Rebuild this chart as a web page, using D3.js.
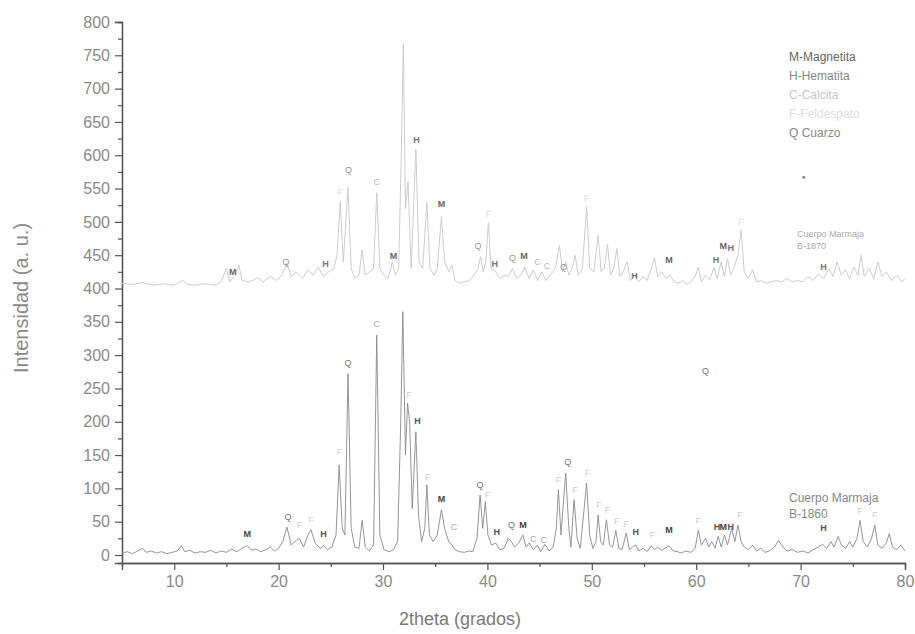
<!DOCTYPE html>
<html>
<head>
<meta charset="utf-8">
<script src="https://cdn.jsdelivr.net/npm/d3@7"></script>
<style>
  body { margin: 0; background: #fff; }
  text { font-family: "Liberation Sans", Arial, sans-serif; }
</style>
</head>
<body>
<div id="chart"></div>
<script>
// patron B-1860 (abajo) : [2theta, intensidad]
const pattern1860 = [
  [5.0,3],[5.5,5],[6.0,2],[6.5,6],[7.0,10],[7.3,4],[7.8,6],[8.3,3],[8.8,5],[9.3,2],[9.8,4],[10.3,6],[10.7,14],[11.0,5],
  [11.5,7],[12.0,3],[12.5,5],[13.0,4],[13.5,7],[14.0,3],[14.5,6],[15.0,4],[15.5,9],[16.0,5],[16.5,10],[17.0,14],[17.4,7],
  [17.8,9],[18.3,5],[18.8,8],[19.2,12],[19.6,6],[20.0,10],[20.4,20],[20.8,42],[21.2,15],[21.7,22],[22.0,25],[22.4,12],
  [22.8,30],[23.1,38],[23.5,18],[24.0,10],[24.3,14],[24.7,8],[25.1,12],[25.5,30],[25.8,135],[26.1,40],[26.35,30],
  [26.65,272],[26.95,40],[27.3,12],[27.7,10],[28.0,52],[28.3,12],[28.7,6],[29.1,15],[29.4,330],[29.7,30],[30.1,8],
  [30.6,5],[31.0,8],[31.4,20],[31.7,200],[31.9,365],[32.15,150],[32.35,228],[32.55,200],[32.8,70],[33.15,185],[33.4,60],
  [33.7,20],[34.0,40],[34.2,105],[34.45,30],[34.8,20],[35.2,30],[35.6,68],[35.9,40],[36.3,20],[36.6,15],[36.9,8],
  [37.3,5],[37.8,4],[38.2,6],[38.6,5],[39.0,25],[39.3,90],[39.55,40],[39.8,80],[40.05,30],[40.4,15],[40.8,18],[41.2,8],
  [41.6,10],[42.0,25],[42.3,20],[42.6,12],[43.0,18],[43.4,30],[43.7,12],[44.0,18],[44.4,8],[44.8,15],[45.1,5],[45.5,16],
  [45.9,6],[46.3,12],[46.6,40],[46.8,98],[47.05,30],[47.5,123],[47.8,40],[48.0,12],[48.3,83],[48.6,25],[48.9,10],
  [49.5,108],[49.8,30],[50.1,10],[50.4,20],[50.6,60],[50.85,20],[51.1,15],[51.4,53],[51.7,15],[52.0,12],[52.3,37],
  [52.6,10],[52.9,8],[53.3,33],[53.6,8],[53.9,12],[54.2,15],[54.5,6],[54.9,10],[55.3,5],[55.7,14],[56.0,8],[56.3,12],
  [56.7,7],[57.0,10],[57.4,14],[57.8,6],[58.2,5],[58.6,3],[59.0,6],[59.5,4],[59.9,10],[60.2,37],[60.5,15],[60.9,25],
  [61.2,12],[61.5,20],[61.8,10],[62.1,28],[62.4,12],[62.7,30],[63.0,15],[63.4,40],[63.7,20],[64.0,45],[64.3,20],
  [64.6,12],[65.0,8],[65.4,15],[65.8,6],[66.2,10],[66.6,4],[67.0,6],[67.5,12],[67.9,22],[68.3,12],[68.7,6],[69.2,8],
  [69.7,4],[70.2,6],[70.7,3],[71.2,8],[71.7,12],[72.1,16],[72.5,10],[72.9,20],[73.2,12],[73.6,28],[73.9,15],[74.3,10],
  [74.7,20],[75.0,12],[75.4,25],[75.7,52],[76.0,20],[76.4,12],[76.8,25],[77.1,45],[77.4,15],[77.8,10],[78.2,18],
  [78.5,32],[78.8,12],[79.2,8],[79.6,15],[80.0,6]
]

// patron B-1870 (arriba, desplazado)
const pattern1870 = [
  [5.0,408],[6.0,406],[7.0,409],[8.0,405],[9.0,407],[10.0,405],[10.8,412],[11.3,406],[12.0,405],[13.0,407],[14.0,405],
  [14.5,410],[15.0,430],[15.3,410],[15.8,418],[16.2,435],[16.5,412],[17.2,410],[18.0,416],[18.5,410],[19.2,418],
  [19.8,412],[20.3,420],[20.8,438],[21.2,418],[21.7,425],[22.3,415],[22.8,428],[23.3,420],[23.8,432],[24.3,418],
  [24.8,425],[25.3,430],[25.6,450],[25.9,530],[26.2,440],[26.65,552],[26.95,430],[27.3,415],[27.7,420],[28.0,458],
  [28.3,420],[28.7,425],[29.1,430],[29.4,544],[29.7,430],[30.1,420],[30.5,415],[30.9,440],[31.2,420],[31.5,430],
  [31.75,600],[31.95,767],[32.15,520],[32.4,560],[32.7,430],[33.15,609],[33.45,440],[33.8,430],[34.2,529],[34.5,430],
  [34.9,420],[35.2,430],[35.6,508],[35.9,440],[36.3,425],[36.6,435],[36.9,412],[37.3,408],[37.8,410],[38.3,412],
  [38.7,420],[39.1,430],[39.35,448],[39.6,425],[39.85,440],[40.1,499],[40.35,430],[40.8,425],[41.2,415],[41.6,420],
  [42.0,418],[42.4,430],[42.8,415],[43.2,420],[43.6,432],[44.0,415],[44.4,428],[44.8,412],[45.2,425],[45.6,412],
  [46.0,420],[46.5,430],[46.9,465],[47.2,425],[47.5,440],[47.8,420],[48.1,430],[48.4,450],[48.7,420],[49.1,430],
  [49.5,523],[49.8,430],[50.2,425],[50.6,480],[50.9,425],[51.2,430],[51.5,466],[51.8,420],[52.1,430],[52.4,460],
  [52.7,418],[53.0,425],[53.4,440],[53.7,412],[54.1,420],[54.5,410],[54.9,418],[55.3,412],[55.7,430],[56.0,446],
  [56.3,418],[56.7,425],[57.1,415],[57.5,420],[57.9,410],[58.3,408],[58.7,412],[59.1,406],[59.5,410],[59.9,418],
  [60.2,432],[60.5,410],[60.9,420],[61.3,413],[61.7,432],[62.0,415],[62.4,440],[62.7,418],[63.0,445],[63.3,420],
  [63.6,430],[64.0,450],[64.3,488],[64.6,425],[65.0,415],[65.4,428],[65.8,410],[66.2,412],[66.7,408],[67.2,410],
  [67.7,412],[68.2,410],[68.7,415],[69.2,410],[69.7,412],[70.2,410],[70.7,418],[71.2,412],[71.7,422],[72.2,415],
  [72.7,430],[73.1,418],[73.5,440],[73.9,420],[74.3,428],[74.7,415],[75.1,432],[75.5,420],[75.8,450],[76.1,418],
  [76.6,430],[77.0,415],[77.4,440],[77.8,418],[78.2,425],[78.7,412],[79.2,420],[79.7,410],[80.0,415]
]

// identificacion de fases: [2theta, intensidad, fase]
const labels1860 = [
  [17.0,27,"M"],[20.9,52,"Q"],[22.0,40,"F"],[23.1,48,"F"],[24.3,27,"H"],[25.8,150,"F"],[26.65,283,"Q"],[29.4,342,"C"],
  [32.5,235,"F"],[33.3,197,"H"],[34.3,112,"F"],[35.6,80,"M"],[36.8,38,"C"],[39.3,101,"Q"],[40.0,85,"F"],[40.9,30,"H"],
  [42.3,40,"Q"],[43.4,40,"M"],[44.4,20,"C"],[45.4,18,"C"],[46.8,108,"F"],[47.7,135,"Q"],[48.4,93,"F"],[49.6,118,"F"],
  [50.7,70,"F"],[51.5,63,"F"],[52.4,47,"F"],[53.3,42,"F"],[54.2,30,"H"],[55.8,25,"F"],[57.4,33,"M"],[60.2,47,"F"],
  [62.0,38,"H"],[62.6,38,"M"],[63.3,38,"H"],[64.2,55,"F"],[72.2,36,"H"],[75.7,62,"F"],[77.1,55,"F"],[60.9,271,"Q"]
]
const labels1870 = [
  [15.6,421,"M"],[20.7,436,"Q"],[24.5,432,"H"],[25.9,540,"F"],[26.7,574,"Q"],[29.4,556,"C"],[31.0,444,"M"],
  [33.2,618,"H"],[35.6,523,"M"],[39.1,459,"Q"],[40.1,508,"F"],[40.7,432,"H"],[42.4,441,"Q"],[43.5,444,"M"],
  [44.8,435,"C"],[45.7,430,"C"],[47.3,428,"Q"],[49.5,532,"F"],[54.1,414,"H"],[57.4,439,"M"],[61.9,438,"H"],
  [62.6,459,"M"],[63.3,457,"H"],[64.3,496,"F"],[72.2,428,"H"]
]

const legendItems = ["M-Magnetita", "H-Hematita", "C-Calcita", "F-Feldespato", "Q Cuarzo"]
const xTicks = [10, 20, 30, 40, 50, 60, 70, 80]
const yTicks = d3.range(0, 801, 50)

const width = 915, height = 634
const svg = d3.select("#chart").append("svg")
    .attr("width", width)
    .attr("height", height)

let x = d3.scaleLinear().domain([5, 80]).range([122, 905])
let y = d3.scaleLinear().domain([-12, 800]).range([563, 22])

//ejes
let yAxis = d3.axisLeft(y).tickValues(yTicks).tickSize(7).tickPadding(5)
let yMinor = d3.axisLeft(y).tickValues(d3.range(25, 800, 50)).tickSize(4).tickFormat("")
let xAxis = d3.axisBottom(x).tickValues(xTicks).tickSize(7).tickPadding(6)
let xMinor = d3.axisBottom(x).tickValues([15, 25, 35, 45, 55, 65, 75]).tickSize(4).tickFormat("")

svg.append("g").attr("transform", "translate(122,0)").call(yAxis)
svg.append("g").attr("transform", "translate(122,0)").call(yMinor)
svg.append("g").attr("transform", "translate(0,563)").call(xAxis)
svg.append("g").attr("transform", "translate(0,563)").call(xMinor)

svg.selectAll(".domain").attr("stroke", "#555").attr("stroke-width", 1.3)
svg.selectAll(".tick line").attr("stroke", "#555").attr("stroke-width", 1.2)
svg.selectAll(".tick text").attr("fill", "#8a8a8a").style("font-size", "16px")

svg.append("text")
    .attr("transform", "translate(28,298) rotate(-90)")
    .attr("text-anchor", "middle")
    .style("font-size", "20px")
    .attr("fill", "#8a8a8a")
    .text("Intensidad (a. u.)")

svg.append("text")
    .attr("x", 460)
    .attr("y", 625)
    .attr("text-anchor", "middle")
    .style("font-size", "18px")
    .attr("fill", "#7a7a7a")
    .text("2theta (grados)")

// patrones
let line = d3.line().x(d => x(d[0])).y(d => y(d[1]))

svg.append("path")
    .datum(pattern1870)
    .attr("d", line)
    .attr("fill", "none")
    .attr("stroke", "#cdcdcd")
    .attr("stroke-width", 1)

svg.append("path")
    .datum(pattern1860)
    .attr("d", line)
    .attr("fill", "none")
    .attr("stroke", "#8a8a8a")
    .attr("stroke-width", 0.9)

// etiquetas de fases
let phaseColor = { M: "#444", H: "#555", Q: "#777", C: "#aaa", F: "#cfcfcf" }
let phaseColorUp = { M: "#666", H: "#777", Q: "#999", C: "#bbb", F: "#dcdcdc" }

svg.selectAll(".lab1860")
    .data(labels1860)
    .enter()
    .append("text")
    .attr("class", "lab1860")
    .attr("x", d => x(d[0]))
    .attr("y", d => y(d[1]))
    .attr("text-anchor", "middle")
    .style("font-size", "9px")
    .style("font-weight", d => (d[2] == "M" || d[2] == "H") ? "bold" : "normal")
    .attr("fill", d => phaseColor[d[2]])
    .text(d => d[2])

svg.selectAll(".lab1870")
    .data(labels1870)
    .enter()
    .append("text")
    .attr("class", "lab1870")
    .attr("x", d => x(d[0]))
    .attr("y", d => y(d[1]))
    .attr("text-anchor", "middle")
    .style("font-size", "9px")
    .style("font-weight", d => (d[2] == "M" || d[2] == "H") ? "bold" : "normal")
    .attr("fill", d => phaseColorUp[d[2]])
    .text(d => d[2])

svg.append("circle")
    .attr("cx", x(70.3)).attr("cy", y(567)).attr("r", 1.5)
    .attr("fill", "#888")

// leyenda
let legendColor = ["#666", "#888", "#c8c8c8", "#dedede", "#888"]
svg.selectAll(".legend")
    .data(legendItems)
    .enter()
    .append("text")
    .attr("class", "legend")
    .attr("x", 789)
    .attr("y", (d, i) => 61 + i * 19)
    .style("font-size", "12px")
    .attr("fill", (d, i) => legendColor[i])
    .text(d => d)

// nombres de muestras
svg.append("text").attr("x", 797).attr("y", 237).style("font-size", "9px").attr("fill", "#aaa").text("Cuerpo Marmaja")
svg.append("text").attr("x", 797).attr("y", 249).style("font-size", "9px").attr("fill", "#aaa").text("B-1870")
svg.append("text").attr("x", 789).attr("y", 502).style("font-size", "12px").attr("fill", "#888").text("Cuerpo Marmaja")
svg.append("text").attr("x", 789).attr("y", 518).style("font-size", "12px").attr("fill", "#888").text("B-1860")
</script>
</body>
</html>
